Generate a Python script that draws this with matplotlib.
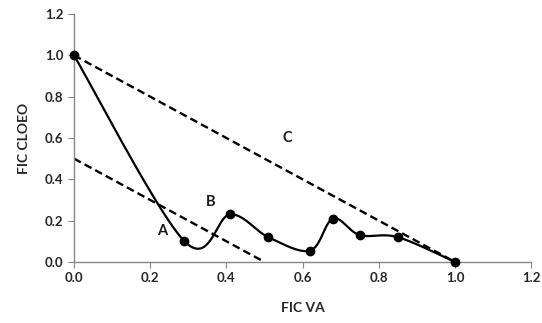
import numpy as np
import matplotlib
matplotlib.use("Agg")
import matplotlib.pyplot as plt

# data
fic_va = [0.0, 0.29, 0.41, 0.51, 0.62, 0.68, 0.75, 0.85, 1.0]
fic_cloeo = [1.0, 0.10, 0.23, 0.12, 0.055, 0.21, 0.13, 0.12, 0.0]

line_c_x = [0.0, 1.0]
line_c_y = [1.0, 0.0]
line_a_x = [0.0, 0.5]
line_a_y = [0.5, 0.0]

labels = ["A", "B", "C"]
label_x = [0.232, 0.36, 0.56]
label_y = [0.15, 0.29, 0.60]


def excel_smooth(x, y, n=40):
    # bezier segments like excel's "smoothed line"
    pts = np.column_stack([x, y])
    out = []
    for i in range(len(pts) - 1):
        p0 = pts[i - 1] if i > 0 else pts[i]
        p1 = pts[i]
        p2 = pts[i + 1]
        p3 = pts[i + 2] if i + 2 < len(pts) else pts[i + 1]
        c1 = p1 + (p2 - p0) / 6.0
        c2 = p2 - (p3 - p1) / 6.0
        t = np.linspace(0, 1, n)[:, None]
        seg = ((1 - t) ** 3) * p1 + 3 * ((1 - t) ** 2) * t * c1 + 3 * (1 - t) * t ** 2 * c2 + t ** 3 * p2
        out.append(seg if i == 0 else seg[1:])
    out = np.vstack(out)
    return out[:, 0], out[:, 1]


plt.rcParams["font.family"] = ["Lato", "DejaVu Sans"]
plt.rcParams["font.weight"] = "bold"

fig = plt.figure(figsize=(5.42, 3.23), dpi=100)
ax = fig.add_axes([0.1365, 0.189, 0.8435, 0.7677])

ax.plot(line_c_x, line_c_y, color="black", lw=1.7, dashes=(3.3, 1.8))
ax.plot(line_a_x, line_a_y, color="black", lw=1.7, dashes=(3.3, 1.8))

sx, sy = excel_smooth(fic_va, fic_cloeo)
ax.plot(sx, sy, color="black", lw=1.6)
ax.plot(fic_va, fic_cloeo, "o", color="black", ms=6, clip_on=False, zorder=5)

for lab, lx, ly in zip(labels, label_x, label_y):
    ax.text(lx, ly, lab, fontsize=10.5, fontweight="bold", ha="center", va="center", color="#1a1a1a")

ax.set_xlim(0, 1.2)
ax.set_ylim(0, 1.2)
ax.set_xticks(np.arange(0, 1.21, 0.2))
ax.set_yticks(np.arange(0, 1.21, 0.2))
ax.xaxis.set_major_formatter(plt.FormatStrFormatter("%.1f"))
ax.yaxis.set_major_formatter(plt.FormatStrFormatter("%.1f"))

for s in ["top", "right"]:
    ax.spines[s].set_visible(False)
for s in ["left", "bottom"]:
    ax.spines[s].set_color("#868686")
    ax.spines[s].set_linewidth(1)
ax.tick_params(colors="#868686", labelcolor="#262626", labelsize=9.5, length=4, direction="out")
for t in ax.get_xticklabels() + ax.get_yticklabels():
    t.set_fontweight("bold")

ax.set_xlabel("FIC VA", fontsize=10, fontweight="bold", color="#262626", labelpad=13)
ax.set_ylabel("FIC CLOEO", fontsize=10, fontweight="bold", color="#262626", labelpad=11)

fig.savefig("out.png", dpi=100)
